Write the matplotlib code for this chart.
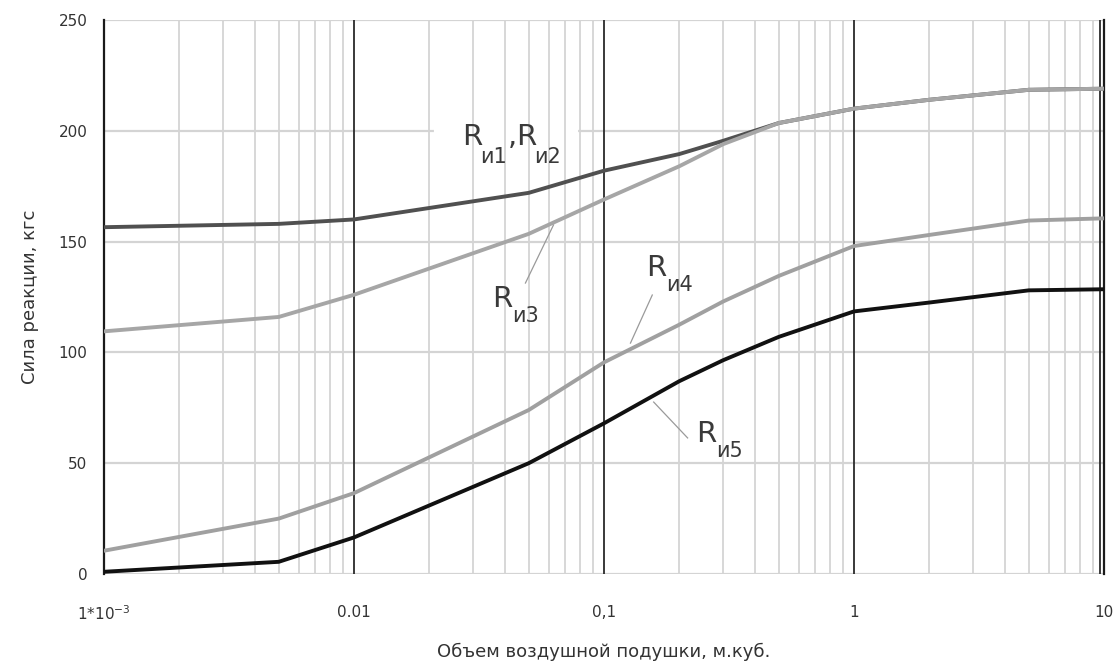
import numpy as np
import matplotlib
matplotlib.use("Agg")
import matplotlib.pyplot as plt
from matplotlib.ticker import FixedLocator, NullFormatter, NullLocator
from matplotlib.transforms import offset_copy

plt.rcParams['font.family'] = ['DejaVu Sans']
plt.rcParams['mathtext.fontset'] = 'dejavusans'

# ---- data ----
volume = [0.001, 0.005, 0.01, 0.05, 0.1, 0.2, 0.3, 0.5, 1, 2, 5, 10]
r_12 = [156.5, 158, 160, 172, 182, 189.5, 195.5, 203.5, 210, 214, 218.5, 219]
r_3 = [109.5, 116, 126, 153.5, 169, 184, 194, 203.5, 210, 214, 218.5, 219]
r_4 = [10.5, 25, 36.5, 74, 95.5, 112.5, 123, 134.5, 148, 153, 159.5, 160.5]
r_5 = [1, 5.5, 16.5, 50, 68, 87, 96.5, 107, 118.5, 122.5, 128, 128.5]

x_ticks = [0.001, 0.01, 0.1, 1, 10]
x_tick_labels = ["1*10$^{-3}$", "0.01", "0,1", "1", "10"]
y_ticks = [0, 50, 100, 150, 200, 250]

fig = plt.figure(figsize=(11.14, 6.61), dpi=100)
ax = fig.add_axes([104/1114, 1-574/661, 1000/1114, (574-20)/661])
ax.set_xscale('log')
ax.set_xlim(0.001, 10)
ax.set_ylim(0, 250)

# grid
for yv in y_ticks:
    ax.axhline(yv, color='#d4d4d4', lw=1.6, zorder=0)
# white gap in the 200 gridline behind the R1,R2 label
ax.plot([0.0212, 0.0770], [200, 200], color='white', lw=3, zorder=0.1)
minor = [m * 10.0**e for e in range(-3, 1) for m in range(2, 10)]
for mv in minor:
    ax.axvline(mv, color='#d4d4d4', lw=1.3, zorder=0.2)
for dv in x_ticks[1:4]:
    ax.axvline(dv, color='#2a2a2a', lw=1.3, zorder=1)
ax.axvline(9.65, color='#2a2a2a', lw=1.3, zorder=1)

# curves
ax.plot(volume, r_12, color='#505050', lw=2.8, zorder=3)
ax.plot(volume, r_3, color='#a6a6a6', lw=2.8, zorder=4)
ax.plot(volume, r_4, color='#a0a0a0', lw=2.8, zorder=3)
ax.plot(volume, r_5, color='#111111', lw=2.8, zorder=3)

# labels: R with lowered subscript
def rlabel(x, y, pieces):
    for txt, dx, dy, size in pieces:
        tr = offset_copy(ax.transData, fig=fig, x=dx, y=dy, units='points')
        ax.text(x, y, txt, fontsize=size, color='#3a3a3a', va='baseline',
                ha='left', transform=tr, zorder=6)

R_SIZE, S_SIZE = 21, 15
rlabel(0.0271, 193.6, [("R", 0, 0, R_SIZE), ("и1", 13, -13, S_SIZE),
                       (",", 33, 0, R_SIZE), ("R", 38.5, 0, R_SIZE),
                       ("и2", 52, -13, S_SIZE)])
rlabel(0.0358, 120.5, [("R", 0, 0, R_SIZE), ("и3", 14, -11, S_SIZE)])
rlabel(0.148, 134.5, [("R", 0, 0, R_SIZE), ("и4", 14, -11, S_SIZE)])
rlabel(0.234, 59.5, [("R", 0, 0, R_SIZE), ("и5", 14, -11, S_SIZE)])

lead_kw = dict(color='#9a9a9a', lw=0.9, zorder=5)
ax.plot([0.0485, 0.0628], [131.3, 157.5], **lead_kw)
ax.plot([0.156, 0.1276], [125.9, 104.2], **lead_kw)
ax.plot([0.158, 0.216], [77.6, 61.4], **lead_kw)

# spines
for s in ['top', 'bottom']:
    ax.spines[s].set_visible(False)
ax.spines['left'].set_color('#1a1a1a')
ax.spines['left'].set_linewidth(1.6)
ax.spines['right'].set_color('#1a1a1a')
ax.spines['right'].set_linewidth(1.6)

ax.xaxis.set_major_locator(FixedLocator(x_ticks))
ax.xaxis.set_minor_locator(NullLocator())
ax.xaxis.set_minor_formatter(NullFormatter())
ax.set_xticklabels(x_tick_labels)
ax.set_yticks(y_ticks)
ax.tick_params(axis='both', length=0, labelsize=11, labelcolor='#333333')
ax.tick_params(axis='x', pad=22)
ax.tick_params(axis='y', pad=12)

ax.set_xlabel("Объем воздушной подушки, м.куб.", fontsize=13, color='#333333', labelpad=14)
ax.set_ylabel("Сила реакции, кгс", fontsize=13, color='#333333', labelpad=14)

fig.savefig("out.png", dpi=100, facecolor='white')
